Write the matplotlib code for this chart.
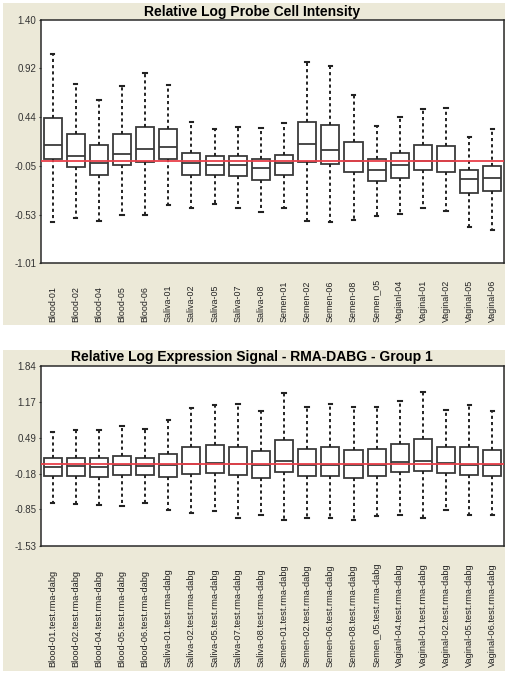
import matplotlib
matplotlib.use('Agg')
import matplotlib.pyplot as plt
from matplotlib.patches import Rectangle

plt.rcParams['font.family'] = ['Liberation Sans', 'DejaVu Sans']

# Panel 1: Relative Log Probe Cell Intensity
samples = ['Blood-01', 'Blood-02', 'Blood-04', 'Blood-05', 'Blood-06',
           'Saliva-01', 'Saliva-02', 'Saliva-05', 'Saliva-07', 'Saliva-08',
           'Semen-01', 'Semen-02', 'Semen-06', 'Semen-08', 'Semen_05',
           'Vagianl-04', 'Vaginal-01', 'Vaginal-02', 'Vaginal-05', 'Vaginal-06']
rlp_whishi = [1.06, 0.77, 0.61, 0.75, 0.87, 0.76, 0.39, 0.32, 0.34, 0.33,
              0.38, 0.98, 0.94, 0.66, 0.35, 0.44, 0.52, 0.53, 0.24, 0.32]
rlp_q3 = [0.43, 0.27, 0.16, 0.27, 0.34, 0.32, 0.08, 0.05, 0.05, 0.02,
          0.06, 0.39, 0.36, 0.19, 0.02, 0.08, 0.16, 0.15, -0.09, -0.05]
rlp_med = [0.16, 0.05, -0.02, 0.07, 0.12, 0.14, -0.02, -0.04, -0.04, -0.07,
           -0.02, 0.17, 0.11, 0.00, -0.09, -0.04, 0.00, 0.00, -0.18, -0.17]
rlp_q1 = [0.02, -0.06, -0.14, -0.04, -0.01, 0.02, -0.14, -0.14, -0.15, -0.19,
          -0.14, -0.01, -0.03, -0.11, -0.20, -0.17, -0.09, -0.11, -0.32, -0.30]
rlp_whislo = [-0.60, -0.56, -0.59, -0.53, -0.53, -0.43, -0.46, -0.42, -0.46, -0.50,
              -0.46, -0.59, -0.60, -0.58, -0.54, -0.52, -0.46, -0.49, -0.65, -0.68]
rlp_yticks = [1.40, 0.92, 0.44, -0.05, -0.53, -1.01]

# Panel 2: Relative Log Expression Signal - RMA-DABG - Group 1
rle_labels = [s + '.test.rma-dabg' for s in samples]
rle_whishi = [0.60, 0.64, 0.63, 0.71, 0.65, 0.82, 1.06, 1.11, 1.13, 1.00,
              1.33, 1.08, 1.12, 1.07, 1.07, 1.18, 1.36, 1.02, 1.11, 1.00]
rle_q3 = [0.11, 0.12, 0.11, 0.15, 0.12, 0.18, 0.32, 0.35, 0.32, 0.25,
          0.45, 0.28, 0.32, 0.27, 0.28, 0.38, 0.47, 0.32, 0.32, 0.27]
rle_med = [-0.05, -0.04, -0.05, -0.02, -0.03, -0.02, 0.00, 0.02, 0.00, -0.01,
           0.05, -0.01, -0.01, -0.01, -0.01, 0.03, 0.05, 0.02, -0.01, -0.01]
rle_q1 = [-0.22, -0.22, -0.24, -0.21, -0.21, -0.24, -0.18, -0.16, -0.21, -0.26,
          -0.14, -0.22, -0.22, -0.26, -0.22, -0.15, -0.13, -0.17, -0.20, -0.22]
rle_whislo = [-0.73, -0.74, -0.76, -0.78, -0.73, -0.86, -0.92, -0.88, -1.02, -0.95,
              -1.04, -1.02, -1.02, -1.05, -0.97, -0.95, -1.02, -0.86, -0.95, -0.95]
rle_yticks = [1.84, 1.17, 0.49, -0.18, -0.85, -1.53]

BEIGE = '#ECE9D8'
EDGE = '#3a3a3a'

fig = plt.figure(figsize=(5.08, 6.74), dpi=100)
fig.patch.set_facecolor('white')

# beige window panels, behind the axes
for y0, h in [(0.5178, 0.4777), (0.0045, 0.4763)]:
    fig.patches.append(Rectangle((0.0059, y0), 0.988, h, transform=fig.transFigure,
                                 facecolor=BEIGE, edgecolor='none', zorder=-10))


def draw_panel(rect, title, title_y, labels, whislo, q1, med, q3, whishi,
               yticks, label_pad, label_size):
    ax = fig.add_axes(rect)
    ax.set_facecolor('white')
    stats = [dict(whislo=a, q1=b, med=c, q3=d, whishi=e)
             for a, b, c, d, e in zip(whislo, q1, med, q3, whishi)]
    ax.bxp(stats, positions=range(1, len(stats) + 1), widths=0.78,
           showfliers=False, patch_artist=True, capwidths=0.15,
           boxprops=dict(facecolor='white', edgecolor=EDGE, linewidth=1.3),
           medianprops=dict(color=EDGE, linewidth=1.3),
           whiskerprops=dict(color='#222222', linewidth=1.4, linestyle=(0, (1.6, 1.6))),
           capprops=dict(color='#222222', linewidth=1.5))
    ax.axhline(0, color='#e8404a', linewidth=1.3, zorder=5)
    ax.set_xlim(0.5, len(stats) + 0.5)
    ax.set_ylim(yticks[-1], yticks[0])
    ax.set_yticks(yticks)
    ax.set_yticklabels(['%.2f' % v for v in yticks])
    ax.set_xticks(range(1, len(stats) + 1))
    ax.set_xticklabels(labels, rotation=90, va='bottom', ha='center')
    ax.tick_params(axis='y', length=1.5, width=0.8, pad=2, labelsize=7, colors='#333333')
    ax.tick_params(axis='x', length=0, pad=label_pad, labelsize=label_size, labelcolor='#222222')
    for sp in ax.spines.values():
        sp.set_color('#2a2a2a')
        sp.set_linewidth(1.1)
    fig.text(0.496, title_y, title, ha='center', va='center',
             fontsize=10, fontweight='bold', color='black')
    return ax


draw_panel([0.0807, 0.6098, 0.9114, 0.3605], 'Relative Log Probe Cell Intensity', 0.982,
           samples, rlp_whislo, rlp_q1, rlp_med, rlp_q3, rlp_whishi,
           rlp_yticks, 42.5, 6.4)
draw_panel([0.0807, 0.1904, 0.9114, 0.2666],
           'Relative Log Expression Signal - RMA-DABG - Group 1', 0.4696,
           rle_labels, rle_whislo, rle_q1, rle_med, rle_q3, rle_whishi,
           rle_yticks, 87.3, 6.7)

fig.savefig('out.png', dpi=100)
